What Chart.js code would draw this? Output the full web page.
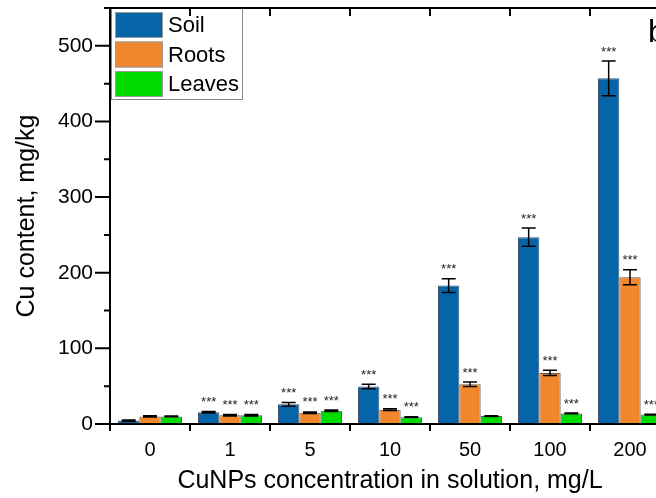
<!DOCTYPE html>
<html>
<head>
<meta charset="utf-8">
<script src="https://cdn.jsdelivr.net/npm/chart.js@4.4.1/dist/chart.umd.min.js"></script>
<style>
  html, body { margin: 0; padding: 0; background: #fff; overflow: hidden; }
  #wrap { width: 656px; height: 498px; overflow: hidden; }
</style>
</head>
<body>
<div id="wrap"><canvas id="chart" width="700" height="498"></canvas></div>
<script>
const categories = ["0", "1", "5", "10", "50", "100", "200"];
const soil = [4.5, 15.5, 26, 49.5, 183, 247, 457];
const soilErr = [0.8, 1, 2.5, 3, 9, 12, 23];
const roots = [10, 11.5, 15, 19, 52.5, 67.5, 194];
const rootsErr = [0.8, 1, 1, 1, 3, 3.5, 10];
const leaves = [10, 11.5, 17.5, 9, 10.5, 14, 12.5];
const leavesErr = [0.5, 1, 1, 0.5, 0.5, 0.5, 0.5];
// 1 = "***" above the bar
const soilSig = [0, 1, 1, 1, 1, 1, 1];
const rootsSig = [0, 1, 1, 1, 1, 1, 1];
const leavesSig = [0, 1, 1, 1, 0, 1, 1];

const FONT = "'Liberation Sans', Arial, sans-serif";
const errors = [soilErr, rootsErr, leavesErr];
const sigs = [soilSig, rootsSig, leavesSig];

const errorBars = {
    id: "errorBars",
    afterDatasetsDraw(chart) {
        const ctx = chart.ctx;
        const y = chart.scales.y;
        ctx.save();
        chart.data.datasets.forEach((ds, di) => {
            const meta = chart.getDatasetMeta(di);
            meta.data.forEach((bar, i) => {
                const v = ds.data[i];
                const e = errors[di][i];
                const top = y.getPixelForValue(v + e);
                const bot = y.getPixelForValue(v - e);
                ctx.strokeStyle = "#000";
                ctx.lineWidth = 1.5;
                ctx.beginPath();
                ctx.moveTo(bar.x, top);
                ctx.lineTo(bar.x, bot);
                ctx.moveTo(bar.x - 7, top);
                ctx.lineTo(bar.x + 7, top);
                ctx.moveTo(bar.x - 7, bot);
                ctx.lineTo(bar.x + 7, bot);
                ctx.stroke();
                if (sigs[di][i]) {
                    ctx.fillStyle = "#222";
                    ctx.font = "13px " + FONT;
                    ctx.textAlign = "center";
                    ctx.textBaseline = "middle";
                    ctx.fillText("***", bar.x, top - 9);
                }
            });
        });
        ctx.restore();
    },
};

const frame = {
    id: "frame",
    afterDraw(chart) {
        const ctx = chart.ctx;
        const { left, right, top, bottom } = chart.chartArea;
        const x = chart.scales.x;
        const y = chart.scales.y;
        ctx.save();

        // legend inside the plot
        ctx.fillStyle = "#fff";
        ctx.fillRect(111, top, 131, 91);
        ctx.strokeStyle = "#888";
        ctx.lineWidth = 1;
        ctx.strokeRect(111.5, top + 0.5, 131, 91);
        chart.data.datasets.forEach((ds, i) => {
            const ry = top + 4 + i * 29.5;
            ctx.fillStyle = ds.backgroundColor;
            ctx.fillRect(115, ry, 48, 26);
            ctx.strokeStyle = "#999";
            ctx.strokeRect(115.5, ry + 0.5, 47, 25);
            ctx.fillStyle = "#000";
            ctx.font = "22px " + FONT;
            ctx.textAlign = "left";
            ctx.textBaseline = "middle";
            ctx.fillText(ds.label, 168, ry + 14);
        });

        ctx.strokeStyle = "#000";
        ctx.lineWidth = 2;
        ctx.beginPath();
        ctx.moveTo(left, top);
        ctx.lineTo(left, bottom + 7);
        ctx.moveTo(left - 1, top);
        ctx.lineTo(right, top);
        ctx.lineTo(right, bottom);
        ctx.moveTo(left - 1, bottom);
        ctx.lineTo(right, bottom);

        // y ticks, major outward, minor in between
        y.ticks.forEach((t) => {
            const py = y.getPixelForValue(t.value);
            ctx.moveTo(left - 15, py);
            ctx.lineTo(left, py);
            const pm = y.getPixelForValue(t.value + 50);
            ctx.moveTo(left - 6, pm);
            ctx.lineTo(left, pm);
        });

        // category boundaries
        for (let i = 1; i < categories.length; i++) {
            const bx = (x.getPixelForValue(i - 1) + x.getPixelForValue(i)) / 2;
            ctx.moveTo(bx, bottom);
            ctx.lineTo(bx, bottom + 7);
            ctx.moveTo(bx, top);
            ctx.lineTo(bx, top + 8);
        }
        ctx.stroke();

        ctx.fillStyle = "#000";
        ctx.font = "32px " + FONT;
        ctx.textAlign = "left";
        ctx.textBaseline = "alphabetic";
        ctx.fillText("b", 648, 42);
        ctx.restore();
    },
};

new Chart(document.getElementById("chart"), {
    type: "bar",
    data: {
        labels: categories,
        datasets: [
            { label: "Soil", data: soil, backgroundColor: "#0565A8", borderColor: "#44546a", borderWidth: 1 },
            { label: "Roots", data: roots, backgroundColor: "#F0872C", borderColor: "#6a5a4a", borderWidth: 1 },
            { label: "Leaves", data: leaves, backgroundColor: "#00DC00", borderColor: "#4a6a4a", borderWidth: 1 },
        ],
    },
    options: {
        responsive: false,
        animation: false,
        devicePixelRatio: 1,
        layout: { padding: { left: 0, top: 8, right: 30, bottom: 0 } },
        datasets: { bar: { categoryPercentage: 0.8, barPercentage: 1 } },
        plugins: {
            legend: { display: false },
            tooltip: { enabled: false },
        },
        scales: {
            x: {
                grid: { display: false, drawTicks: false },
                border: { display: false },
                ticks: { color: "#000", font: { family: FONT, size: 20 }, padding: 14, maxRotation: 0 },
                title: {
                    display: true,
                    text: "CuNPs concentration in solution, mg/L",
                    color: "#000",
                    font: { family: FONT, size: 25 },
                    padding: { top: 0, bottom: 2 },
                },
                afterFit(s) {
                    s.height = 74;
                    s.paddingLeft = 0;
                    s.paddingRight = 0;
                },
            },
            y: {
                min: 0,
                max: 550,
                grid: { display: false, drawTicks: false },
                border: { display: false },
                ticks: { stepSize: 100, includeBounds: false, color: "#000", font: { family: FONT, size: 21 }, padding: 17 },
                title: {
                    display: true,
                    text: "Cu content, mg/kg",
                    color: "#000",
                    font: { family: FONT, size: 25 },
                    padding: { top: 12, bottom: 0 },
                },
                afterFit(s) {
                    s.width = 110;
                    s.paddingTop = 0;
                    s.paddingBottom = 0;
                },
            },
        },
    },
    plugins: [errorBars, frame],
});
</script>
</body>
</html>
